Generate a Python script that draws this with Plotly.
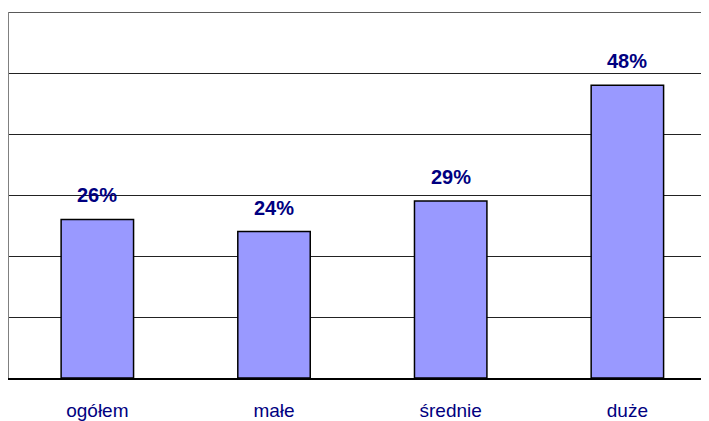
import plotly.graph_objects as go

# Share of companies by size
categories = ['ogółem', 'małe', 'średnie', 'duże']
values = [26, 24, 29, 48]
value_labels = ['26%', '24%', '29%', '48%']

navy = '#000080'

fig = go.Figure()

fig.add_trace(go.Bar(
    x=categories,
    y=values,
    width=0.41,
    marker=dict(color='#9999FF', line=dict(color='black', width=1.5)),
    hoverinfo='skip',
))

# Value labels above bars
for cat, val, lab in zip(categories, values, value_labels):
    fig.add_annotation(
        x=cat, y=val, text='<b>' + lab + '</b>', showarrow=False,
        yanchor='bottom', yshift=11,
        font=dict(family='Liberation Sans, Arial, sans-serif', size=20, color=navy),
    )

# page body has an 8px margin, so the figure is sized to fit the window
fig.update_layout(
    width=701, height=413,
    margin=dict(l=1, r=0, t=4, b=33),
    plot_bgcolor='white', paper_bgcolor='white',
    showlegend=False,
    font=dict(family='Liberation Sans, Arial, sans-serif'),
    xaxis=dict(
        range=[-0.5, 3.462],
        showgrid=False, zeroline=False,
        showline=True, linecolor='black', linewidth=1.5,
        ticks='', ticklabelstandoff=14,
        tickfont=dict(size=19, color=navy),
    ),
    yaxis=dict(
        range=[0, 60], dtick=10,
        showgrid=True, gridcolor='#222222', gridwidth=1,
        zeroline=False, showticklabels=False,
        showline=True, linecolor='#808080', linewidth=2,
        mirror=False,
    ),
)

# top border line of plot area (grid at 60)
fig.add_shape(type='line', xref='paper', yref='y', x0=0, x1=1, y0=60, y1=60,
              line=dict(color='#222222', width=1.5))

fig.write_html('out.html')
